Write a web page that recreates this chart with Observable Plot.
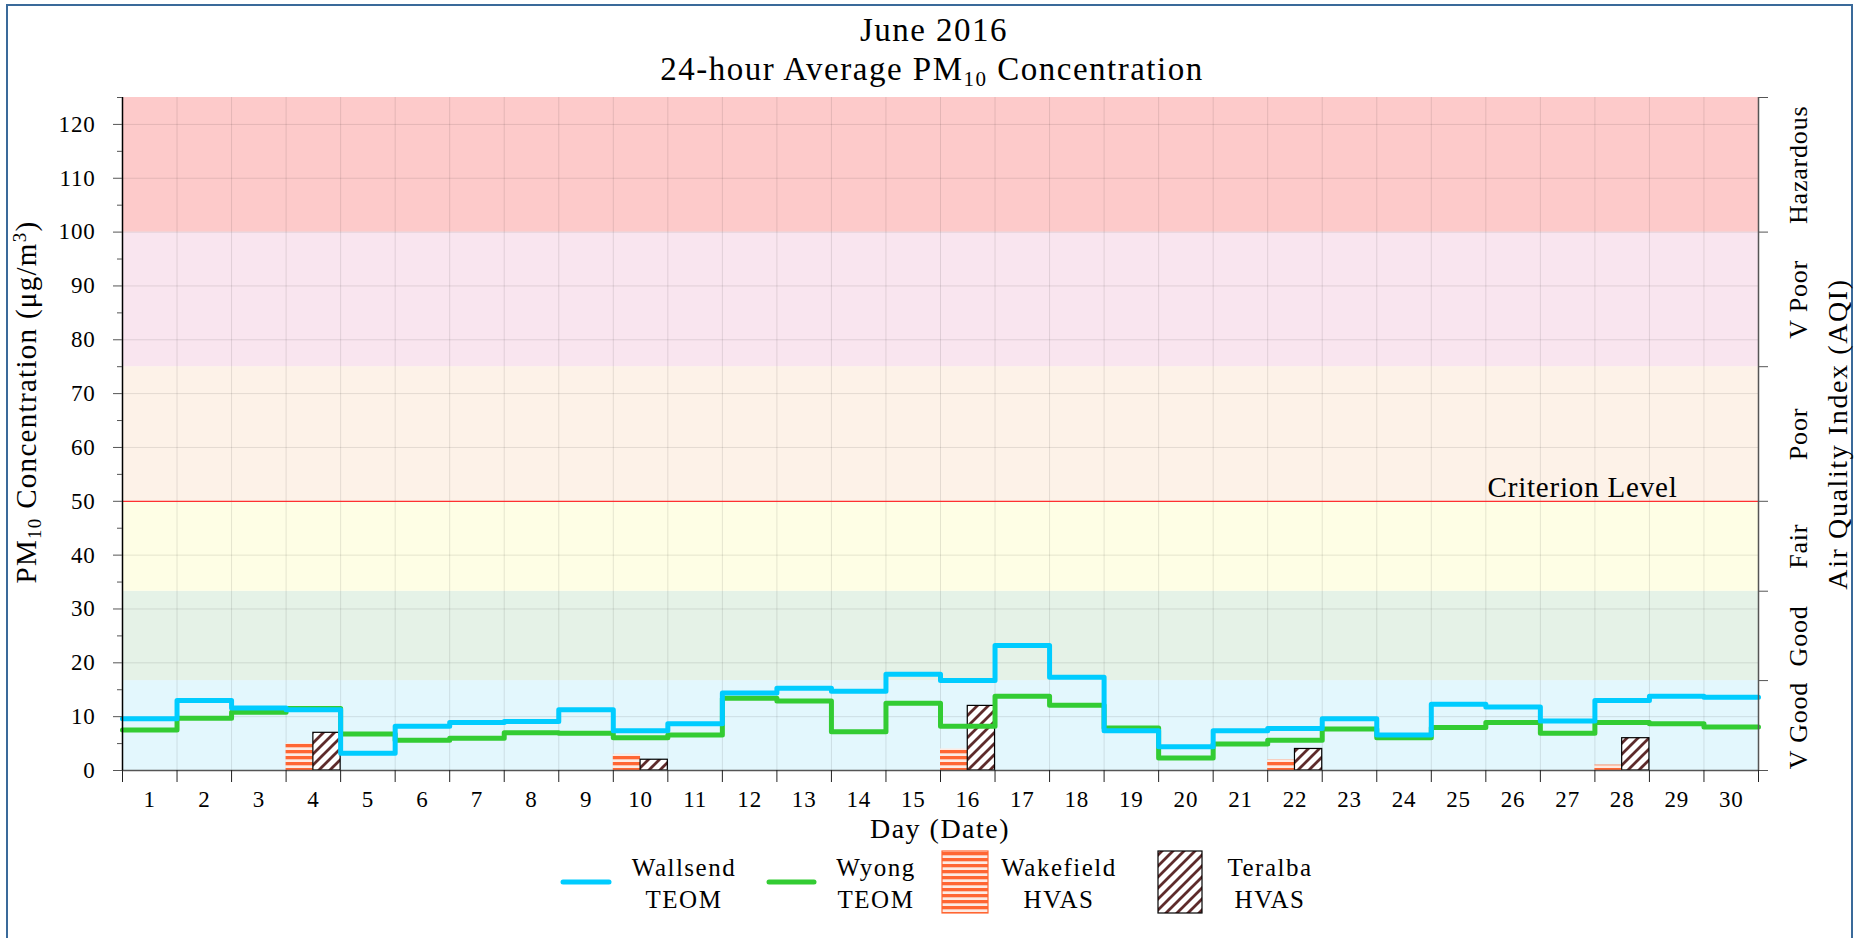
<!DOCTYPE html>
<html><head><meta charset="utf-8">
<script src="https://cdn.jsdelivr.net/npm/d3@7"></script>
<script src="https://cdn.jsdelivr.net/npm/@observablehq/plot@0.6"></script>
<style>
html,body{margin:0;padding:0;background:#fff;}
#chart{position:relative;width:1854px;height:938px;overflow:hidden;}
</style></head><body><div id="chart"></div>
<script>
// ---- data ----
const days = [1,2,3,4,5,6,7,8,9,10,11,12,13,14,15,16,17,18,19,20,21,22,23,24,25,26,27,28,29,30];
const wallsend = [9.6,13.0,11.6,11.3,3.2,8.2,8.9,9.1,11.3,7.4,8.7,14.4,15.3,14.7,17.9,16.7,23.2,17.3,7.4,4.4,7.4,7.8,9.6,6.6,12.3,11.8,9.2,13.0,13.8,13.6];
const wyong = [7.5,9.7,10.8,11.5,6.8,5.6,6.0,7.0,6.9,6.1,6.6,13.4,12.9,7.2,12.5,8.2,13.8,12.1,7.9,2.3,4.9,5.6,7.7,6.1,8.0,8.9,6.9,8.9,8.7,8.1];
const hvasDays = [4,10,16,22,28];
const wakefield = [5,3,4,2,1];
const teralba = [7,2,12,4,6];
const bandLimits = [0,16.7,33.3,50,75,100,125];
const bandNames = ["V Good","Good","Fair","Poor","V Poor","Hazardous"];
const yTicks = [0,10,20,30,40,50,60,70,80,90,100,110,120];
const yMinorTicks = [5,15,25,35,45,55,65,75,85,95,105,115,125];
const criterion = 50;
const criterionLabel = "Criterion Level";
const seriesNames = [["Wallsend","TEOM"],["Wyong","TEOM"],["Wakefield","HVAS"],["Teralba","HVAS"]];

// ---- styles ----
const bandColors = ["#e3f7fd","#e5f2e7","#fefee5","#fdf2e8","#f9e5ef","#fdcaca"];
const C_WALL = "#00ccff", C_WY = "#33cc33", C_WK = "#ff6633", C_TR = "#5e2b2b";
const FONT = "Liberation Serif, Times New Roman, serif";

// ---- derived tables ----
const stepData = vals => days.map((d,i)=>({x:d-0.5,y:vals[i]})).concat([{x:days[days.length-1]+0.5,y:vals[vals.length-1]}]);
const bands = bandNames.map((name,i)=>({name,lo:bandLimits[i],hi:bandLimits[i+1],mid:(bandLimits[i]+bandLimits[i+1])/2,color:bandColors[i]}));
const hvas = hvasDays.map((d,i)=>({day:d,wakefield:wakefield[i],teralba:teralba[i]}));
const boundaries = days.map(d=>d-0.5).concat([days[days.length-1]+0.5]);
const xMin = boundaries[0], xMax = boundaries[boundaries.length-1];

const plot = Plot.plot({
  width:1854, height:938,
  marginTop:97, marginRight:96, marginBottom:168, marginLeft:122,
  x:{domain:[xMin,xMax], label:null},
  y:{domain:[0,125], label:null},
  color:{type:"identity"},
  style:{fontFamily:FONT, fontSize:"22px", color:"#000", background:"transparent", overflow:"visible"},
  marks:[
    Plot.rect(bands,{y1:"lo",y2:"hi",fill:"color"}),
    Plot.gridY(yTicks,{stroke:"#000",strokeOpacity:0.1}),
    Plot.gridX(boundaries,{stroke:"#000",strokeOpacity:0.1}),
    Plot.ruleY([criterion],{stroke:"#ff3030",strokeWidth:1.3}),
    Plot.rect(hvas,{x1:d=>d.day-0.5,x2:d=>d.day,y1:()=>0,y2:"wakefield",fill:"url(#wkPat)"}),
    Plot.rect(hvas,{x1:d=>d.day,x2:d=>d.day+0.5,y1:()=>0,y2:"teralba",fill:"url(#trPat)",stroke:"#000",strokeWidth:1.2}),
    Plot.line(stepData(wyong),{x:"x",y:"y",curve:"step-after",stroke:C_WY,strokeWidth:5}),
    Plot.line(stepData(wallsend),{x:"x",y:"y",curve:"step-after",stroke:C_WALL,strokeWidth:5}),
    Plot.ruleY([0],{stroke:"#555",strokeWidth:1.5}),
    Plot.ruleX([xMin],{stroke:"#000",strokeWidth:1.5}),
    Plot.ruleX([xMax],{stroke:"#555",strokeWidth:1.5}),
    Plot.axisY(yTicks,{anchor:"left",tickSize:9,tickFormat:()=>"",stroke:"#555",label:null}),
    Plot.axisY(yMinorTicks,{anchor:"left",tickSize:5,tickFormat:()=>"",stroke:"#555",label:null}),
    Plot.axisY(bandLimits,{anchor:"right",tickSize:9,tickFormat:()=>"",stroke:"#555",label:null}),
    Plot.axisX(boundaries,{anchor:"bottom",tickSize:12,tickFormat:()=>"",stroke:"#222",label:null}),
    // tick labels drawn as text marks on the same scales
    Plot.text(yTicks,{y:d=>d,text:d=>`${d}`,frameAnchor:"left",textAnchor:"end",dx:-27,fontSize:23,fill:"#000"}),
    Plot.text(days,{x:d=>d,text:d=>`${d}`,frameAnchor:"bottom",lineAnchor:"middle",dy:29,fontSize:23,fill:"#000"}),
    Plot.text(bands,{y:"mid",text:"name",frameAnchor:"right",textAnchor:"middle",dx:40,rotate:-90,fontSize:26,fill:"#000"}),
    Plot.text([criterion],{y:d=>d,text:()=>criterionLabel,frameAnchor:"right",textAnchor:"end",lineAnchor:"bottom",dx:-81,dy:-4,fontSize:29,fill:"#000"})
  ]
});
document.getElementById("chart").appendChild(plot);

// ---- patterns, titles, labels, legend ----
const svg = d3.select(plot);
const defs = svg.insert("defs",":first-child");
const wk = defs.append("pattern").attr("id","wkPat").attr("patternUnits","userSpaceOnUse").attr("width",8).attr("height",6);
wk.append("rect").attr("width",8).attr("height",6).attr("fill","#fcebe4");
wk.append("rect").attr("width",8).attr("height",3.3).attr("fill",C_WK);
const tr = defs.append("pattern").attr("id","trPat").attr("patternUnits","userSpaceOnUse").attr("width",11).attr("height",11);
tr.append("rect").attr("width",11).attr("height",11).attr("fill","#fff");
tr.append("path").attr("d","M-3,3 L3,-3 M0,11 L11,0 M8,14 L14,8").attr("stroke",C_TR).attr("stroke-width",2.8);

const g = svg.append("g").attr("fill","#000");
g.append("rect").attr("x",7).attr("y",5).attr("width",1845).attr("height",945).attr("fill","none").attr("stroke","#3a6a9a").attr("stroke-width",2);

g.append("text").attr("x",934).attr("y",41).attr("text-anchor","middle").attr("font-size",33).style("letter-spacing","1.5px").text("June 2016");
const t2 = g.append("text").attr("x",932).attr("y",80).attr("text-anchor","middle").attr("font-size",33).style("letter-spacing","1.5px");
t2.append("tspan").text("24-hour Average PM");
t2.append("tspan").attr("font-size",21).attr("dy",6).text("10");
t2.append("tspan").attr("dy",-6).text(" Concentration");

const yl = g.append("text").attr("transform","translate(36,402) rotate(-90)").attr("text-anchor","middle").attr("font-size",29).style("letter-spacing","1.3px");
yl.append("tspan").text("PM");
yl.append("tspan").attr("font-size",19).attr("dy",5).text("10");
yl.append("tspan").attr("dy",-5).text(" Concentration (μg/m");
yl.append("tspan").attr("font-size",19).attr("dy",-10).text("3");
yl.append("tspan").attr("dy",10).text(")");

g.append("text").attr("transform","translate(1847,434) rotate(-90)").attr("text-anchor","middle").attr("font-size",28).style("letter-spacing","1.6px").text("Air Quality Index (AQI)");
g.append("text").attr("x",940).attr("y",838).attr("text-anchor","middle").attr("font-size",28).style("letter-spacing","1.5px").text("Day (Date)");

// legend
const lg = g.append("g");
const items = [
  {kind:"line",color:C_WALL,sx:563,sw:46,tx:684},
  {kind:"line",color:C_WY,sx:769,sw:45,tx:876},
  {kind:"rect",fill:"url(#wkPat)",stroke:C_WK,sx:942,sw:46,tx:1059},
  {kind:"rect",fill:"url(#trPat)",stroke:"#000",sx:1158,sw:44,tx:1270}
];
items.forEach((it,i)=>{
  if(it.kind==="line"){
    lg.append("line").attr("x1",it.sx).attr("x2",it.sx+it.sw).attr("y1",882).attr("y2",882)
      .attr("stroke",it.color).attr("stroke-width",5).attr("stroke-linecap","round");
  } else {
    lg.append("rect").attr("x",it.sx).attr("y",851).attr("width",it.sw).attr("height",62)
      .attr("fill",it.fill).attr("stroke",it.stroke).attr("stroke-width",1.2);
  }
  lg.append("text").attr("x",it.tx).attr("y",876).attr("text-anchor","middle").attr("font-size",25).style("letter-spacing","1.5px").text(seriesNames[i][0]);
  lg.append("text").attr("x",it.tx).attr("y",908).attr("text-anchor","middle").attr("font-size",25).style("letter-spacing","1.5px").text(seriesNames[i][1]);
});

// force the serif face on every text element
svg.selectAll("text").style("font-family",FONT).style("font-variant","normal");
svg.selectAll("g[aria-label='text'] text").style("letter-spacing","0.8px");
</script></body></html>
